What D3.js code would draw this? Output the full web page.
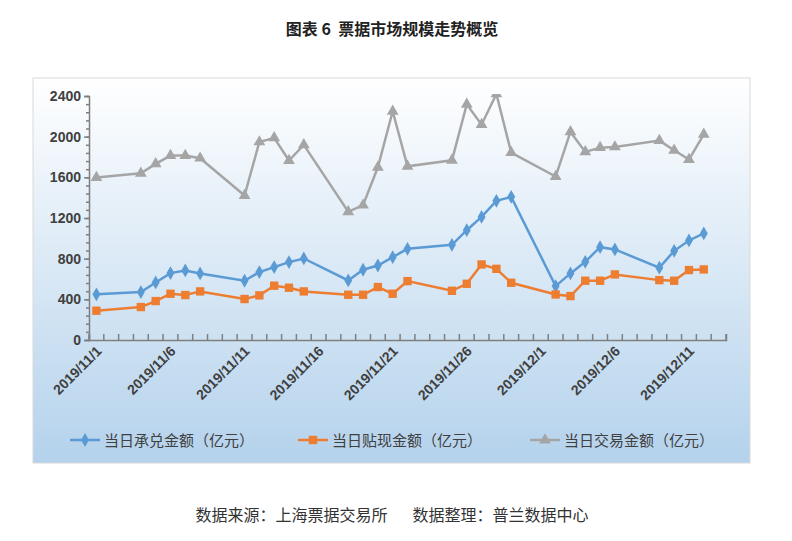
<!DOCTYPE html>
<html><head><meta charset="utf-8">
<script src="https://cdn.jsdelivr.net/npm/d3@7"></script>
<style>body{margin:0;background:#fff;font-family:"Noto Sans CJK SC","Noto Sans",sans-serif;} text{white-space:pre;}</style>
</head><body><svg id="svg"></svg>
<script>
// values
const dates = ["11/1","11/4","11/5","11/6","11/7","11/8","11/11","11/12","11/13","11/14","11/15","11/18","11/19","11/20","11/21","11/22","11/25","11/26","11/27","11/28","11/29","12/2","12/3","12/4","12/5","12/6","12/9","12/10","12/11","12/12"];
const accept = [449,471,566,658,684,655,583,668,717,766,802,586,691,733,815,897,936,1080,1211,1369,1408,530,655,769,913,891,711,877,979,1048];
const discount = [288,324,383,455,442,478,403,439,534,514,478,445,445,521,455,579,484,553,743,700,563,448,432,583,583,645,589,583,688,694];
const trade = [1598,1640,1732,1814,1814,1788,1421,1948,1988,1765,1919,1261,1326,1699,2250,1709,1768,2318,2118,2420,1843,1608,2047,1850,1892,1899,1961,1866,1775,2023];
const names = ["当日承兑金额（亿元）","当日贴现金额（亿元）","当日交易金额（亿元）"];
const colors = ["#5b9bd5","#ed7d31","#a5a5a5"];
const yTicks = [0,400,800,1200,1600,2000,2400];

const width = 792, height = 541,
	m = {top: 96, right: 66, bottom: 201, left: 89};

const svg = d3.select("svg#svg").attr("width", width).attr("height", height);

const defs = svg.append("defs");
const grad = defs.append("linearGradient").attr("id", "bg").attr("x1", 0).attr("y1", 0).attr("x2", 0).attr("y2", 1);
grad.append("stop").attr("offset", "0%").attr("stop-color", "#ffffff");
grad.append("stop").attr("offset", "100%").attr("stop-color", "#b4d2ec");
defs.append("clipPath").attr("id", "clip").append("rect")
	.attr("x", m.left).attr("y", m.top - 2).attr("width", width - m.left - m.right).attr("height", height - m.top - m.bottom + 2);

svg.append("rect").attr("x", 33).attr("y", 78).attr("width", 717).attr("height", 385)
	.attr("fill", "url(#bg)").attr("stroke", "#d9d9d9");

svg.append("text").attr("x", 392).attr("y", 35).attr("text-anchor", "middle")
	.attr("font-size", 16).attr("font-weight", "bold").attr("fill", "#222").text("图表 6  票据市场规模走势概览");
svg.append("text").attr("x", 392).attr("y", 521).attr("text-anchor", "middle")
	.attr("font-size", 16).attr("fill", "#333").text("数据来源：上海票据交易所       数据整理：普兰数据中心");

// daily time axis 11/1 .. 12/13
const t0 = new Date(2019, 10, 1), t1 = new Date(2019, 11, 14);
const days = d3.timeDay.range(t0, t1);
const x = d3.scaleBand().domain(days.map(d => +d)).range([m.left, width - m.right]);
const parse = s => { const [mo, da] = s.split("/").map(Number); return +new Date(2019, mo - 1, da); };
const cx = s => x(parse(s)) + x.bandwidth() / 2;
const y = d3.scaleLinear().domain([0, 2400]).range([height - m.bottom, m.top]);

const axisCol = "#7f7f7f", labCol = "#404040";
const yAxis = svg.append("g").attr("transform", `translate(${m.left},0)`)
	.call(d3.axisLeft(y).tickValues(yTicks).tickFormat(d3.format("d")).tickSize(5));
svg.append("g").attr("transform", `translate(${m.left},0)`)
	.call(d3.axisLeft(y).tickValues(d3.range(0, 2401, 80)).tickSize(3).tickFormat(""))
	.select(".domain").remove();
const xAxis = svg.append("g").attr("transform", `translate(0,${height - m.bottom})`)
	.call(d3.axisBottom(x).tickValues([...days.map(d => +d), +t1]).tickSize(-6).tickFormat(""));
xAxis.selectAll(".tick").attr("transform", d => `translate(${d === +t1 ? width - m.right : x(d)},0)`);
svg.selectAll(".domain, .tick line").attr("stroke", axisCol).attr("stroke-width", 1.5);
yAxis.selectAll("text").attr("fill", labCol).attr("font-size", 14).attr("font-weight", "bold")
	.attr("font-family", "Liberation Sans, sans-serif");

days.filter((d, i) => i % 5 === 0).forEach(d => {
	const px = x(+d) + x.bandwidth() / 2 + 6, py = height - m.bottom + 12;
	svg.append("text").attr("transform", `translate(${px},${py}) rotate(-45)`)
		.attr("text-anchor", "end").attr("font-size", 14).attr("font-weight", "bold")
		.attr("font-family", "Liberation Sans, sans-serif").attr("fill", labCol)
		.text(d3.timeFormat("%Y/%-m/%-d")(d));
});

const series = [accept, discount, trade];
const plot = svg.append("g").attr("clip-path", "url(#clip)");
const symbols = [d3.symbolDiamond, d3.symbolSquare, d3.symbolTriangle];
const sizes = [55, 70, 60];
series.forEach((vals, k) => {
	const pts = dates.map((d, i) => [cx(d), y(vals[i])]);
	plot.append("path").attr("d", d3.line()(pts)).attr("fill", "none")
		.attr("stroke", colors[k]).attr("stroke-width", 2.5);
	plot.selectAll(null).data(pts).enter().append("path")
		.attr("transform", p => `translate(${p[0]},${p[1]})`)
		.attr("d", d3.symbol().type(symbols[k]).size(sizes[k]))
		.attr("fill", colors[k]);
});

// legend
const lx = [70, 298, 530];
names.forEach((n, k) => {
	const g = svg.append("g").attr("transform", `translate(${lx[k]},440)`);
	g.append("line").attr("x1", 0).attr("x2", 30).attr("stroke", colors[k]).attr("stroke-width", 2.5);
	g.append("path").attr("transform", "translate(15,0)")
		.attr("d", d3.symbol().type(symbols[k]).size(sizes[k])).attr("fill", colors[k]);
	g.append("text").attr("x", 34).attr("y", 6).attr("font-size", 15).attr("fill", "#404040").text(n);
});
</script></body></html>
